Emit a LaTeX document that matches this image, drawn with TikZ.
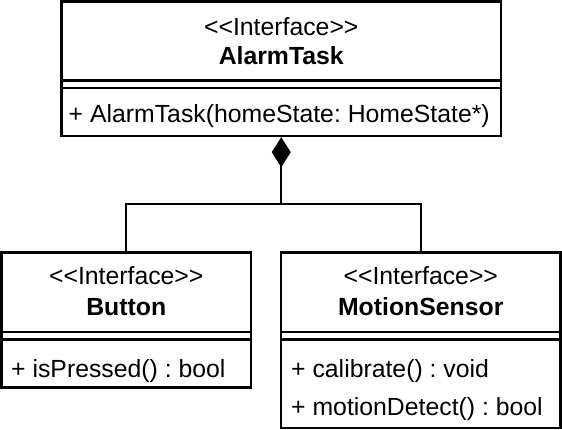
\documentclass[tikz,border=0pt]{standalone}
\usepackage{fontspec}
\setmainfont{Liberation Sans}
\usetikzlibrary{arrows.meta}
\frenchspacing
\newcommand\umlstereo{<\kern0pt<Interface>\kern0pt>}
\tikzset{
  umlbox/.style={draw=black, line width=2.4pt, rectangle, inner sep=0pt},
  divider/.style={draw=black, line width=2.4pt},
  txt/.style={anchor=base, inner sep=0pt, font=\fontsize{24.8}{27}\selectfont},
  txtb/.style={txt, font=\fontsize{24.8}{27}\selectfont\bfseries},
  meth/.style={txt, anchor=base west},
  conn/.style={draw=black, line width=2.4pt},
}
\begin{document}
\begin{tikzpicture}[x=1pt,y=-1pt]
\useasboundingbox (0,0) rectangle (562,430);
% boxes
\node[umlbox, minimum width=439.5pt, minimum height=134.5pt] (alarm) at (281.25,68.75) {};
\node[umlbox, minimum width=249.5pt, minimum height=135pt] (button) at (126.25,320) {};
\node[umlbox, minimum width=279.5pt, minimum height=175.5pt] (motion) at (420.75,340.25) {};
% dividers
\draw[divider] (61.5,80.5) -- (501,80.5);
\draw[divider] (61.5,88) -- (501,88);
\draw[divider] (1.5,332) -- (251,332);
\draw[divider] (1.5,339.5) -- (251,339.5);
\draw[divider] (281,332) -- (560.5,332);
\draw[divider] (281,339.5) -- (560.5,339.5);
% texts
\node[txt] (alarmst) at (281.25,36) {\umlstereo};
\node[txtb] (alarmnm) at (281.25,65) {AlarmTask};
\node[meth] (alarmm1) at (68.5,123) {+ AlarmTask(homeState: HomeState*)};
\node[txt] (buttonst) at (126.25,285) {\umlstereo};
\node[txtb] (buttonnm) at (126.25,316) {Button};
\node[meth] (buttonm1) at (11,377) {+ isPressed() : bool};
\node[txt] (motionst) at (420.75,285) {\umlstereo};
\node[txtb] (motionnm) at (420.75,316) {MotionSensor};
\node[meth] (motionm1) at (291,377) {+ calibrate() : void};
\node[meth] (motionm2) at (291,415) {+ motionDetect() : bool};
% connectors
\coordinate (jn) at (281.25,204);
\draw[conn, -{Diamond[length=30pt,width=19pt]}] (jn) -- (alarm.south);
\draw[conn] (button.north) |- (jn) -| (motion.north);
\end{tikzpicture}
\end{document}
